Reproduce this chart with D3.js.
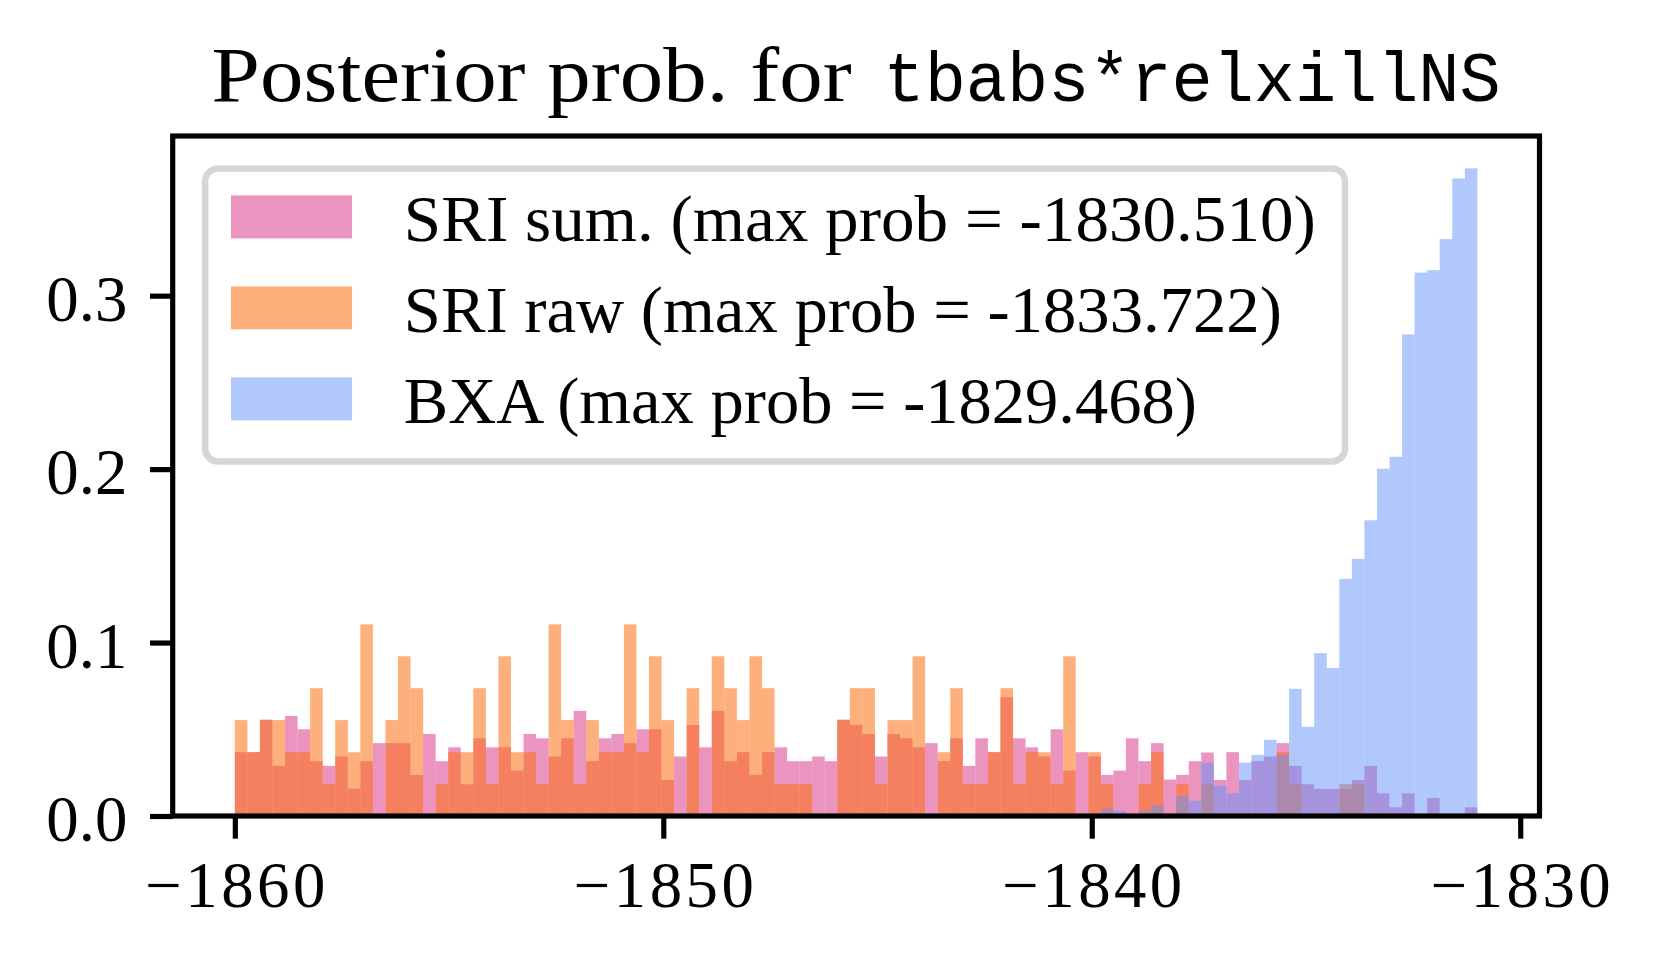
<!DOCTYPE html>
<html>
<head>
<meta charset="utf-8">
<script src="https://cdn.jsdelivr.net/npm/d3@7"></script>
<style>
  body { margin: 0; background: #fff; }
</style>
</head>
<body>
<svg id="chart"></svg>
<script>
// histogram bins: 99 equal bins between these edges
const binLo = -1860;
const binHi = -1831;
const nBins = 99;

// SRI sum. (pink)
const sriSum = [
  0.0368, 0.0368, 0.0556, 0.0289, 0.0577, 0.0500, 0.0316, 0.0289, 0.0343, 0.0158,
  0.0316, 0.0420, 0.0420, 0.0420, 0.0237, 0.0473, 0.0316, 0.0396, 0.0183, 0.0448,
  0.0396, 0.0396, 0.0262, 0.0473, 0.0448, 0.0343, 0.0448, 0.0606, 0.0316, 0.0448,
  0.0473, 0.0420, 0.0500, 0.0500, 0.0208, 0.0343, 0.0525, 0.0396, 0.0606, 0.0316,
  0.0368, 0.0237, 0.0368, 0.0396, 0.0316, 0.0316, 0.0343, 0.0316, 0.0556, 0.0525,
  0.0473, 0.0343, 0.0473, 0.0448, 0.0396, 0.0420, 0.0316, 0.0448, 0.0289, 0.0448,
  0.0368, 0.0685, 0.0448, 0.0396, 0.0343, 0.0500, 0.0262, 0.0368, 0.0343, 0.0237,
  0.0262, 0.0448, 0.0316, 0.0420, 0.0210, 0.0237, 0.0316, 0.0366, 0.0208, 0.0368,
  0.0208, 0.0316, 0.0343, 0.0420, 0.0289, 0.0183, 0.0156, 0.0156, 0.0156, 0.0208,
  0.0289, 0.0131, 0.0050, 0.0131, 0.0000, 0.0104, 0.0000, 0.0000, 0.0050
];

// SRI raw (orange)
const sriRaw = [
  0.0553, 0.0368, 0.0553, 0.0553, 0.0368, 0.0368, 0.0737, 0.0184, 0.0553, 0.0368,
  0.1105, 0.0000, 0.0553, 0.0921, 0.0737, 0.0000, 0.0184, 0.0368, 0.0368, 0.0737,
  0.0184, 0.0921, 0.0368, 0.0368, 0.0184, 0.1105, 0.0553, 0.0184, 0.0553, 0.0368,
  0.0368, 0.1105, 0.0368, 0.0921, 0.0553, 0.0000, 0.0737, 0.0000, 0.0921, 0.0737,
  0.0553, 0.0921, 0.0737, 0.0184, 0.0184, 0.0184, 0.0000, 0.0000, 0.0553, 0.0737,
  0.0737, 0.0184, 0.0553, 0.0553, 0.0921, 0.0000, 0.0368, 0.0737, 0.0184, 0.0184,
  0.0368, 0.0737, 0.0184, 0.0368, 0.0368, 0.0184, 0.0921, 0.0000, 0.0368, 0.0184,
  0.0000, 0.0000, 0.0184, 0.0368, 0.0000, 0.0184, 0.0000, 0.0184, 0.0000, 0.0000,
  0.0000, 0.0000, 0.0000, 0.0368, 0.0184, 0.0000, 0.0000, 0.0000, 0.0184, 0.0184,
  0.0000, 0.0000, 0.0000, 0.0000, 0.0000, 0.0000, 0.0000, 0.0000, 0.0000
];

// BXA (blue)
const bxa = [
  0, 0, 0, 0, 0, 0, 0, 0, 0, 0,
  0, 0, 0, 0, 0, 0, 0, 0, 0, 0,
  0, 0, 0, 0, 0, 0, 0, 0, 0, 0,
  0, 0, 0, 0, 0, 0, 0, 0, 0, 0,
  0, 0, 0, 0, 0, 0, 0, 0, 0, 0,
  0, 0, 0, 0, 0, 0, 0, 0, 0, 0,
  0, 0, 0, 0, 0, 0, 0, 0, 0, 0.0042,
  0.0029, 0, 0.0029, 0.0060, 0, 0.0115, 0.0087, 0.0308, 0.0175, 0.0131,
  0.0308, 0.0352, 0.0439, 0.0352, 0.0733, 0.0514, 0.0939, 0.0853, 0.1367, 0.1482,
  0.1705, 0.2002, 0.2071, 0.2777, 0.3133, 0.3147, 0.3326, 0.3676, 0.3734
];

const xTicks = [-1860, -1850, -1840, -1830];
const yTicks = [0, 0.1, 0.2, 0.3];
const legendLabels = [
  'SRI sum. (max prob = -1830.510)',
  'SRI raw (max prob = -1833.722)',
  'BXA (max prob = -1829.468)'
];
const titleText = 'Posterior prob. for';
const titleCode = 'tbabs*relxillNS';

const width = 1659, height = 963;
const pt = 6.48;            // pixels per point at this figure size
const fs = 10 * pt;         // base font size
const serif = "'Liberation Serif', 'DejaVu Serif', serif";
const mono = "'Liberation Mono', 'DejaVu Sans Mono', monospace";
const plot = {left: 172.7, right: 1539.5, top: 136, bottom: 816};

const svg = d3.select('#chart').attr('width', width).attr('height', height);
svg.append('rect').attr('width', width).attr('height', height).attr('fill', '#fff');

const binW = (binHi - binLo) / nBins;
const edges = d3.range(nBins + 1).map((i) => binLo + i * binW);
const xPad = (binHi - binLo) * 0.05;
const x = d3.scaleLinear()
  .domain([binLo - xPad, binHi + xPad])
  .range([plot.left, plot.right]);
const yMax = d3.max([...sriSum, ...sriRaw, ...bxa]) * 1.05;
const y = d3.scaleLinear()
  .domain([0, yMax])
  .range([plot.bottom, plot.top]);

const series = [
  {vals: sriSum, fill: 'rgb(222,77,150)', op: 0.6},
  {vals: sriRaw, fill: 'rgb(251,111,17)', op: 0.55},
  {vals: bxa, fill: 'rgb(97,145,249)', op: 0.5}
];

// bars, drawn in the same order as the legend
series.forEach((s) => {
  svg.append('g')
    .selectAll('rect')
    .data(s.vals.map((v, i) => ({v, x0: edges[i], x1: edges[i + 1]})).filter((d) => d.v > 0))
    .join('rect')
      .attr('x', (d) => x(d.x0))
      .attr('width', (d) => x(d.x1) - x(d.x0))
      .attr('y', (d) => y(d.v))
      .attr('height', (d) => y(0) - y(d.v))
      .attr('fill', s.fill)
      .attr('fill-opacity', s.op);
});

// axes
const xAxis = svg.append('g')
  .attr('transform', `translate(0,${plot.bottom})`)
  .call(d3.axisBottom(x)
    .tickValues(xTicks)
    .tickSize(3.5 * pt)
    .tickPadding(3.5 * pt)
    .tickFormat((d) => '\u2212' + Math.abs(d)));
xAxis.select('.domain').remove();

const yAxis = svg.append('g')
  .attr('transform', `translate(${plot.left},0)`)
  .call(d3.axisLeft(y)
    .tickValues(yTicks)
    .tickSize(3.5 * pt)
    .tickPadding(3.5 * pt)
    .tickFormat(d3.format('.1f')));
yAxis.select('.domain').remove();

[xAxis, yAxis].forEach((a) => {
  a.attr('font-family', serif).attr('font-size', fs);
  a.selectAll('line').attr('stroke', '#000').attr('stroke-width', 0.8 * pt);
  a.selectAll('text').attr('fill', '#000');
});
xAxis.selectAll('text')
  .attr('textLength', 180)
  .attr('lengthAdjust', 'spacing');
yAxis.selectAll('text').attr('dy', '0.38em');

svg.append('rect')
  .attr('x', plot.left).attr('y', plot.top)
  .attr('width', plot.right - plot.left)
  .attr('height', plot.bottom - plot.top)
  .attr('fill', 'none')
  .attr('stroke', '#000')
  .attr('stroke-width', 0.8 * pt);

// legend
const lgX = plot.left + 0.5 * fs;
const lgY = plot.top + 0.5 * fs;
const handleX = lgX + 0.4 * fs;
const handleW = 121;
const handleH = 43;
const rowStep = 91;
const textX = handleX + handleW + 0.8 * fs;
const labelWidths = [912, 878, 793];

const lg = svg.append('g');
lg.append('rect')
  .attr('x', lgX).attr('y', lgY)
  .attr('width', textX + d3.max(labelWidths) + 0.45 * fs - lgX)
  .attr('height', 293)
  .attr('rx', 0.2 * fs)
  .attr('fill', '#fff').attr('fill-opacity', 0.8)
  .attr('stroke', '#d6d6d6')
  .attr('stroke-width', pt);

const rows = lg.selectAll('g.row')
  .data(series.map((s, i) => ({s, label: legendLabels[i], w: labelWidths[i], i})))
  .join('g')
    .attr('class', 'row')
    .attr('transform', (d) => `translate(0,${lgY + 27 + d.i * rowStep})`);
rows.append('rect')
  .attr('x', handleX).attr('y', 0)
  .attr('width', handleW).attr('height', handleH)
  .attr('fill', (d) => d.s.fill)
  .attr('fill-opacity', (d) => d.s.op);
rows.append('text')
  .attr('x', textX).attr('y', 46)
  .attr('font-family', serif).attr('font-size', fs)
  .attr('textLength', (d) => d.w)
  .attr('lengthAdjust', 'spacingAndGlyphs')
  .text((d) => d.label);

// title: roman part + typewriter part
const tSerifW = 640, tGap = 32, tMonoW = 617;
const tStart = (plot.left + plot.right) / 2 - (tSerifW + tGap + tMonoW) / 2;
svg.append('text')
  .attr('x', tStart).attr('y', 100.5)
  .attr('font-family', serif).attr('font-size', 1.2 * fs)
  .attr('textLength', tSerifW).attr('lengthAdjust', 'spacingAndGlyphs')
  .text(titleText);
svg.append('text')
  .attr('x', tStart + tSerifW + tGap).attr('y', 100.5)
  .attr('font-family', mono).attr('font-size', 70)
  .attr('textLength', tMonoW).attr('lengthAdjust', 'spacingAndGlyphs')
  .text(titleCode);
</script>
</body>
</html>
